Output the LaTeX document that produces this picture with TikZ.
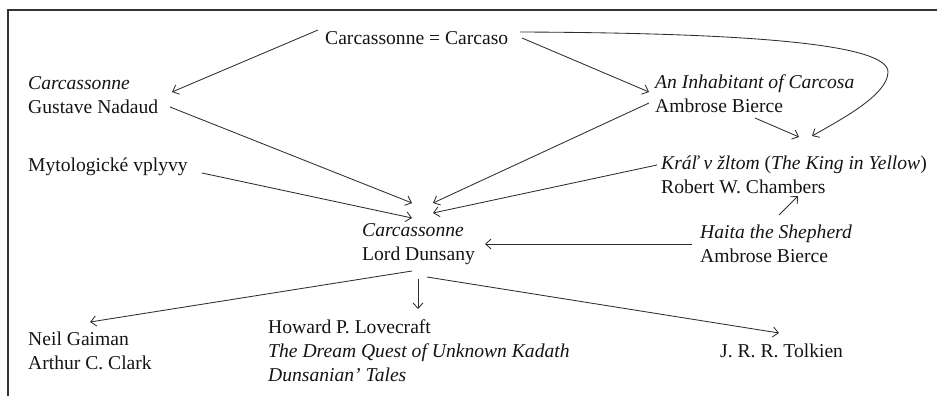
\documentclass[tikz,border=0pt]{standalone}
\usepackage{fontspec}
\setmainfont{Liberation Serif}
\usetikzlibrary{arrows.meta,calc}
\begin{document}
\begin{tikzpicture}[x=1pt,y=-1pt,
  lbl/.style={inner sep=0pt,anchor=west,align=left,text=black!92,font=\fontsize{19.6}{24}\selectfont},
  conn/.style={draw=black!82,line width=0.85pt,-{Straight Barb[length=5.5pt,width=10pt]}}]
\useasboundingbox (0,0) rectangle (937,396);
\draw[black!80,line width=1.2pt] (8,396) -- (8,10) -- (937,10);
\node[lbl] (top) at (325,38) {Carcassonne = Carcaso};
\node[lbl] (nadaud) at (28,95) {\textit{Carcassonne}\\Gustave Nadaud};
\node[lbl] (myto) at (28,167) {Mytologické vplyvy};
\node[lbl] (bierce) at (655,93.5) {\textit{An Inhabitant of Carcosa}\\Ambrose Bierce};
\node[lbl] (chambers) at (661,175) {\textit{Kráľ v žltom} (\textit{The King in Yellow})\\Robert W. Chambers};
\node[lbl] (dunsany) at (362,244.5) {\textit{Carcassonne}\\Lord Dunsany};
\node[lbl] (haita) at (700,244) {\textit{Haita the Shepherd}\\Ambrose Bierce};
\node[lbl] (gaiman) at (28,351) {Neil Gaiman\\Arthur C. Clark};
\node[lbl] (lovecraft) at (268,350.5) {Howard P. Lovecraft\\\textit{The Dream Quest of Unknown Kadath}\\\textit{Dunsanian’ Tales}};
\node[lbl] (tolkien) at (720,351) {J. R. R. Tolkien};
\coordinate (bend) at ($(chambers.west)+(227,-103)$);
% top arrows
\draw[conn] ($(top.west)+(-7,-8)$) -- ($(nadaud.west)+(144,-3)$);
\draw[conn] ($(top.west)+(197,0)$) -- ($(bierce.west)+(-6,-1.5)$);
\draw[conn] ($(top.west)+(195,-6)$) .. controls +(240,1) and +(0,-27) .. (bend)
  .. controls +(0,23) and +(28,-16) .. ($(chambers.west)+(151,-39)$);
\draw[conn] ($(bierce.west)+(100,24.5)$) -- ($(chambers.west)+(138,-38)$);
\draw[conn] ($(haita.west)+(79,-29)$) -- ($(chambers.west)+(137,21)$);
% into Dunsany
\draw[conn] ($(haita.west)+(-8,0)$) -- ($(dunsany.west)+(123,-0.5)$);
\draw[conn] ($(nadaud.west)+(142,12)$) -- ($(dunsany.west)+(50,-41.5)$);
\draw[conn] ($(myto.west)+(174,6)$) -- ($(dunsany.west)+(50,-26.5)$);
\draw[conn] ($(bierce.west)+(-6,9.5)$) -- ($(dunsany.west)+(71,-41.5)$);
\draw[conn] ($(chambers.west)+(-4,-10)$) -- ($(dunsany.west)+(71,-31.5)$);
% out of Dunsany
\draw[conn] ($(dunsany.west)+(50,26.5)$) -- ($(gaiman.west)+(62,-29)$);
\draw[conn] ($(dunsany.west)+(56,34.5)$) -- ($(lovecraft.west)+(150,-41.5)$);
\draw[conn] ($(dunsany.west)+(65,32.5)$) -- ($(tolkien.west)+(59,-18)$);
\end{tikzpicture}
\end{document}
